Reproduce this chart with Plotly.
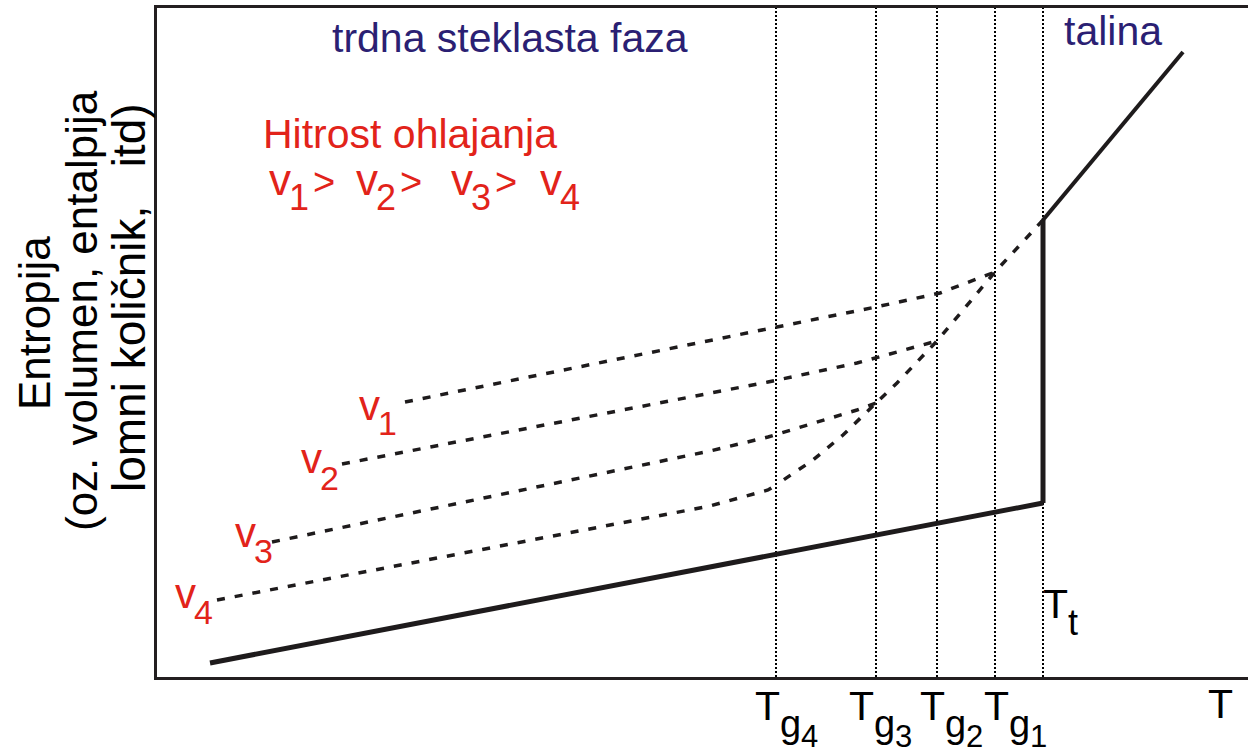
import plotly.graph_objects as go

# ---------------- data (schematic, arbitrary units) ----------------
# x: temperature T, y: entropy S
X_MAX = 1091
Y_MAX = 669

T_t = 886                      # melting temperature
T_g = [838, 780, 719, 619]     # glass transition temperatures T_g1..T_g4
tg_names = ["1", "2", "3", "4"]

crystal_T = [53, 886]
crystal_S = [14, 174]
jump_T = [886, 886]
jump_S = [174, 457]
melt_T = [886, 1026]
melt_S = [457, 625]

# supercooled liquid (dashed)
liquid_T = [886, 838, 780, 740, 719, 686, 656, 619]
liquid_S = [457, 405, 336, 294, 274, 242, 217, 192]

# glass branches for cooling rates v1..v4 (dashed)
glass_v1_T = [248, 719, 783, 838]
glass_v1_S = [275, 370, 384, 405]
glass_v2_T = [185, 611, 700, 780]
glass_v2_S = [213, 295, 314, 336]
glass_v3_T = [115, 553, 611, 700, 719]
glass_v3_S = [135, 226, 240, 267, 274]
glass_v4_T = [60, 553, 611, 619]
glass_v4_S = [77, 171, 187, 192]

# ---------------- styling ----------------
FONT = "Liberation Sans, Arial, sans-serif"
RED = "#e2231a"
NAVY = "#2b1f73"
INK = "#1e1b1c"
L, T_M, B_PX = 157, 8, 677   # plot area pixel edges
PW, PH = 1248 - L, B_PX - T_M

fig = go.Figure()

# dotted verticals at T_g and T_t
for xv in T_g + [T_t]:
    fig.add_trace(go.Scatter(x=[xv, xv], y=[0, Y_MAX], mode="lines",
                             line=dict(color="#000000", width=2, dash="2px,2px"),
                             hoverinfo="skip", showlegend=False))

dash_style = dict(color=INK, width=3.5, dash="8px,10px")
for gx, gy in [(glass_v1_T, glass_v1_S), (glass_v2_T, glass_v2_S),
               (glass_v3_T, glass_v3_S), (glass_v4_T, glass_v4_S)]:
    fig.add_trace(go.Scatter(x=gx, y=gy, mode="lines", line=dash_style,
                             hoverinfo="skip", showlegend=False))
fig.add_trace(go.Scatter(x=liquid_T, y=liquid_S, mode="lines", line=dash_style,
                         hoverinfo="skip", showlegend=False))

fig.add_trace(go.Scatter(x=crystal_T, y=crystal_S, mode="lines",
                         line=dict(color=INK, width=5), showlegend=False, hoverinfo="skip"))
fig.add_trace(go.Scatter(x=jump_T, y=jump_S, mode="lines",
                         line=dict(color=INK, width=5), showlegend=False, hoverinfo="skip"))
fig.add_trace(go.Scatter(x=melt_T, y=melt_S, mode="lines",
                         line=dict(color=INK, width=4), showlegend=False, hoverinfo="skip"))

anns = []


def put(s, px, base, size, color, xanchor="left", xref_val=None):
    cy = base - 0.347 * size
    d = dict(text=s, yref="paper", y=(B_PX - cy) / PH, xanchor=xanchor, yanchor="middle",
             showarrow=False, borderpad=0, borderwidth=0,
             font=dict(family=FONT, size=size, color=color))
    if xref_val is None:
        d.update(xref="paper", x=(px - L) / PW)
    else:
        d.update(xref="x", x=xref_val, xshift=px)
    anns.append(d)


put("trdna steklasta faza", 510, 52, 41, NAVY, "center")
put("talina", 1113, 45, 41, NAVY, "center")
put("Hitrost ohlajanja", 410, 148, 41, RED, "center")

# v1 > v2 > v3 > v4
seq_left = [269, 356, 451, 540]
for i, name in enumerate(tg_names):
    vx = seq_left[i]
    put("v", vx, 195, 44, RED)
    put(name, vx + 20, 210, 36, RED)
    if i < 3:
        put(">", vx + 44, 195, 38, RED)

# v labels at start of each glass branch
glass_starts = [(glass_v1_T[0], glass_v1_S[0]), (glass_v2_T[0], glass_v2_S[0]),
                (glass_v3_T[0], glass_v3_S[0]), (glass_v4_T[0], glass_v4_S[0])]
v_label_off = [(-46, 18, 15), (-41, 9, 17), (-37, 5, 16), (-42, 8, 16)]
for (sx, sy), (dx, dy, dd), name in zip(glass_starts, v_label_off, tg_names):
    px = sx + L
    py = B_PX - sy
    put("v", px + dx, py + dy, 42, RED)
    put(name, px + dx + 19, py + dy + dd, 34, RED)

# T_g tick labels
tick_off = [-11, -17, -27, -21]
for xv, off, name in zip(T_g, tick_off, tg_names):
    put("T", off, 720, 41, "#000000", xref_val=xv)
    put("g", off + 25, 737, 38, "#000000", xref_val=xv)
    put(name, off + 46, 747, 31, "#000000", xref_val=xv)

# T_t label
put("T", 0, 618, 41, "#000000", xref_val=T_t)
put("t", 25, 635, 36, "#000000", xref_val=T_t)
# axis label T
put("T", 1208, 718, 41, "#000000")

# y-axis title, three rotated lines
ytitle = ["Entropija", "(oz. volumen, entalpija", "lomni količnik,   itd)"]
ycx = [34, 81, 129]
ycy = [323, 311, 298]
ysize = [44, 44, 46]
for s, cx, cy, fs in zip(ytitle, ycx, ycy, ysize):
    anns.append(dict(text=s, xref="paper", yref="paper", x=(cx - L) / PW, y=(B_PX - cy) / PH,
                     xanchor="center", yanchor="middle", textangle=-90, showarrow=False,
                     borderpad=0, font=dict(family=FONT, size=fs, color="#000000")))

fig.update_layout(
    width=1248, height=755,
    margin=dict(l=L, r=0, t=T_M, b=755 - B_PX),
    paper_bgcolor="white", plot_bgcolor="white",
    showlegend=False,
    annotations=anns,
    xaxis=dict(range=[0, X_MAX], showgrid=False, zeroline=False, showticklabels=False,
               ticks="", showline=True, linecolor="#231f20", linewidth=2.5, mirror=True,
               fixedrange=True),
    yaxis=dict(range=[0, Y_MAX], showgrid=False, zeroline=False, showticklabels=False,
               ticks="", showline=True, linecolor="#231f20", linewidth=2.5, fixedrange=True),
)

fig.write_html("out.html", config={"displayModeBar": False},
               post_script="document.body.style.margin='0px';document.body.style.overflow='hidden';")
